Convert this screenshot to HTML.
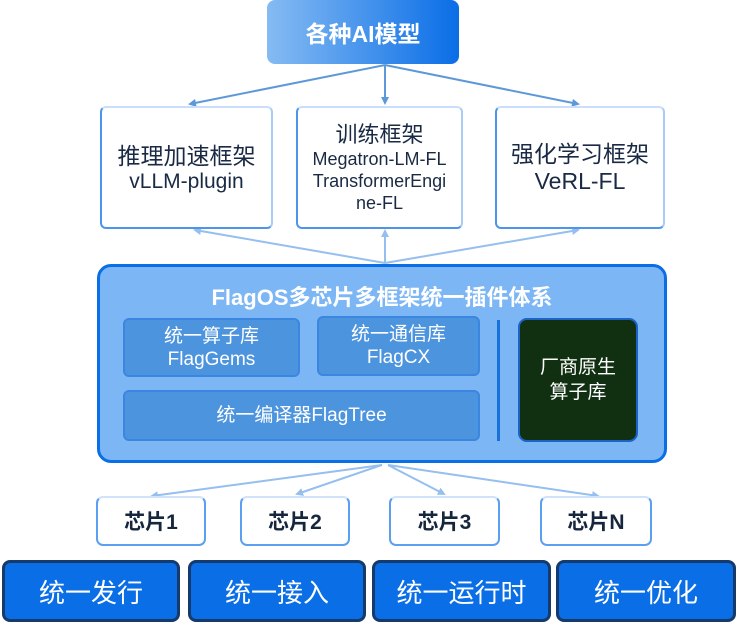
<!DOCTYPE html>
<html><head><meta charset="utf-8"><style>
body{margin:0;width:740px;height:624px;background:#fff;position:relative;overflow:hidden;font-family:"Liberation Sans","Noto Sans CJK SC",sans-serif}
.a{position:absolute;box-sizing:border-box;display:flex;align-items:center;justify-content:center;text-align:center;flex-direction:column}
.fw{border:2px solid #4d95ec;border-top-color:#c9defa;border-right-color:#a9cbf5;border-radius:6px;background:#fff;color:#1a2a44;font-size:21px;line-height:24px}
.sub{background:#4d94de;border:2px solid #3b86e0;border-radius:6px;color:#fff;font-size:19px;line-height:23px}
.chip{border:2px solid #5a9ff0;border-top-color:#d0e3fb;border-radius:7px;background:#fff;color:#16263d;font-weight:bold;font-size:21px}
.btn{background:#0a6ee6;border:3px solid #173a6c;border-radius:8px;color:#fff;font-size:26px}
</style></head><body>
<svg width="740" height="624" style="position:absolute;left:0;top:0">
<defs><marker id="m" markerWidth="8" markerHeight="8" refX="6" refY="4" orient="auto" markerUnits="userSpaceOnUse"><path d="M0,0L8,4L0,8z" fill="#5d98d8"/></marker>
<marker id="n" markerWidth="8" markerHeight="8" refX="6" refY="4" orient="auto" markerUnits="userSpaceOnUse"><path d="M0,0L8,4L0,8z" fill="#94bfee"/></marker></defs>
<g stroke="#5d98d8" stroke-width="2" fill="none">
<line x1="385" y1="65" x2="190" y2="104" marker-end="url(#m)"/>
<line x1="385" y1="65" x2="385" y2="103" marker-end="url(#m)"/>
<line x1="385" y1="65" x2="578" y2="104" marker-end="url(#m)"/>
</g>
<g stroke="#94bfee" stroke-width="2" fill="none">
<line x1="385" y1="263" x2="195" y2="230" marker-end="url(#n)"/>
<line x1="385" y1="263" x2="385" y2="231" marker-end="url(#n)"/>
<line x1="385" y1="263" x2="578" y2="230" marker-end="url(#n)"/>
<line x1="382" y1="465" x2="152" y2="496" marker-end="url(#n)"/>
<line x1="382" y1="465" x2="297" y2="494" marker-end="url(#n)"/>
<line x1="388" y1="465" x2="444" y2="494" marker-end="url(#n)"/>
<line x1="388" y1="465" x2="598" y2="496" marker-end="url(#n)"/>
</g></svg>
<div class="a" style="left:267px;top:0;width:192px;height:64px;border-radius:8px;background:linear-gradient(90deg,#86bbf3,#0a6ee6);color:#fff;font-weight:bold;font-size:23px">各种AI模型</div>
<div class="a fw" style="left:100px;top:106px;width:173px;height:123px"><span style="font-size:23px;line-height:28px">推理加速框架</span>vLLM-plugin</div>
<div class="a fw" style="left:296px;top:106px;width:167px;height:123px;font-size:18px;line-height:22px"><span style="font-size:22px;line-height:26px">训练框架</span>Megatron-LM-FL<br>TransformerEngi<br>ne-FL</div>
<div class="a fw" style="left:495px;top:106px;width:170px;height:123px;font-size:23px;line-height:27px">强化学习框架<br>VeRL-FL</div>
<div class="a" style="left:97px;top:264px;width:570px;height:199px;border:3px solid #0a6ee6;border-radius:14px;background:#7db6f4"></div>
<div class="a" style="left:97px;top:280px;width:570px;height:32px;color:#fff;font-weight:bold;font-size:22px">FlagOS多芯片多框架统一插件体系</div>
<div class="a sub" style="left:123px;top:318px;width:177px;height:59px">统一算子库<br>FlagGems</div>
<div class="a sub" style="left:317px;top:316px;width:163px;height:60px">统一通信库<br>FlagCX</div>
<div class="a sub" style="left:123px;top:390px;width:357px;height:51px">统一编译器FlagTree</div>
<div style="position:absolute;left:497px;top:320px;width:3px;height:121px;background:#1a6fd8"></div>
<div class="a" style="left:518px;top:318px;width:120px;height:124px;background:#113012;border:2px solid #1b63c4;border-radius:9px;color:#fff;font-size:19px;line-height:25px">厂商原生<br>算子库</div>
<div class="a chip" style="left:96px;top:496px;width:110px;height:50px">芯片1</div>
<div class="a chip" style="left:240px;top:496px;width:110px;height:50px">芯片2</div>
<div class="a chip" style="left:389px;top:496px;width:111px;height:50px">芯片3</div>
<div class="a chip" style="left:540px;top:496px;width:112px;height:50px">芯片N</div>
<div class="a btn" style="left:2px;top:560px;width:178px;height:62px">统一发行</div>
<div class="a btn" style="left:188px;top:560px;width:178px;height:62px">统一接入</div>
<div class="a btn" style="left:372px;top:560px;width:179px;height:62px">统一运行时</div>
<div class="a btn" style="left:556px;top:560px;width:180px;height:62px">统一优化</div>
</body></html>
